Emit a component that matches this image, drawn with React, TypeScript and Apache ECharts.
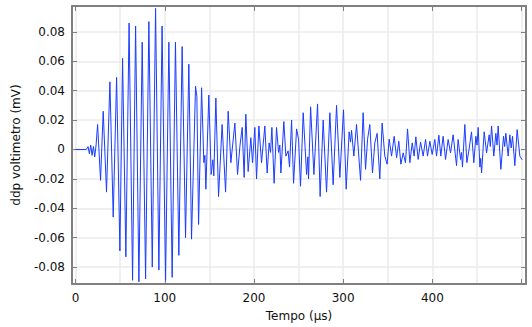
import React, { useEffect, useRef } from "react";
import * as echarts from "echarts";

// [tempo (µs), ddp (mV)], split into segments
const onset: [number, number][] = [
  [0, 0], [12, 0], [14, 0.002], [15.5, -0.003], [17, 0.003], [18.5, -0.004],
  [20, 0.002], [21.5, -0.005], [23, 0.003], [24.7, 0.017], [28, -0.021],
  [31, 0.026], [34.7, -0.029], [38.5, 0.046], [42.2, -0.046], [46, 0.049],
  [49.7, -0.069], [52.7, 0.062], [56.4, -0.073],
];
const burst: [number, number][] = [
  [60, 0.086], [63.9, -0.089], [67.3, 0.084], [71, -0.09], [74.7, 0.073],
  [78.5, -0.088], [82.2, 0.087], [86, -0.08], [89.7, 0.096], [93.4, -0.082],
  [97, 0.084], [100.9, -0.089], [104.6, 0.073], [108.3, -0.087], [112, 0.073],
  [115.8, -0.072], [119.5, 0.07], [123.3, -0.06], [127, 0.058], [130, -0.061],
  [134.5, 0.043], [136, 0.036], [137.9, -0.051], [141.3, 0.042], [143.8, -0.009],
  [145, -0.004], [146.1, -0.027], [149.4, 0.037], [152, -0.017], [153.9, -0.007],
  [155, -0.018], [157.3, 0.035], [160.3, -0.032], [164.3, 0.017], [168.2, -0.029],
  [171.1, 0.026], [174.1, -0.009], [178.6, 0.018], [181.6, -0.017], [184.2, 0.002],
  [186.8, 0.015], [189, -0.019],
];
const decay: [number, number][] = [
  [190.9, 0.024], [193.5, -0.015], [196.5, 0.008], [198.4, -0.009], [201, 0.015],
  [202.9, -0.02], [205.5, 0.016], [208.5, -0.009], [212.2, 0.016], [214.8, -0.016],
  [217, 0.0045], [218.6, -0.002], [220.1, 0.015], [222.6, -0.023], [225.3, 0.015],
  [227.6, -0.002], [229, 0.003], [230.2, -0.016], [233.5, 0.019], [235.8, -0.0045],
  [238.3, -0.001], [239.9, -0.012], [242.2, 0.02], [244.4, -0.023], [247.8, 0.014],
  [250, 0.007], [252.2, -0.025], [255.2, 0.025], [259, -0.017], [260.4, -0.005],
  [261.2, -0.02], [263.5, 0.029], [267.2, -0.017], [271.3, 0.031], [274.2, -0.032],
  [277.6, 0.02], [281.4, -0.029], [285.1, 0.025], [288.8, -0.024], [292.6, 0.03],
  [296.3, -0.019], [300.4, 0.027], [303.4, -0.027], [306.7, 0.012], [308.3, 0.005],
  [309.4, 0.013], [312, -0.0045], [315, 0.017], [319.5, -0.021], [322.4, 0.025],
  [325.1, -0.0135], [327.4, 0.007], [329.9, 0.017], [332.9, -0.016], [335.5, 0.0045],
  [338.1, 0.011], [341.1, -0.02], [343.7, 0.018], [346.7, -0.0045], [349.3, -0.01],
];
const tail: [number, number][] = [
  [351.6, 0.007], [354.3, -0.0045], [357.2, 0.009], [359.9, -0.0056], [362.4, 0.0056],
  [364.7, -0.01], [367.3, -0.0023], [369.9, -0.009], [372.2, 0.014], [374.8, -0.009],
  [377.4, 0.0045], [379.6, -0.0045], [381.5, 0.0086], [384.1, -0.0068], [386.8, 0.005],
  [389.7, -0.0045], [392.4, 0.0068], [394.6, -0.0045], [397.2, 0.0056], [399.8, -0.0034],
  [402.8, 0.0068], [404.7, -0.0045], [407.3, 0.0097], [409.5, -0.0045], [412.1, 0.009],
  [414.8, -0.0068], [417.7, 0.0068], [420.4, -0.0023], [423.3, 0.01], [427.1, -0.011],
  [428.9, 0.0068], [431.6, -0.0068], [432.7, -0.002], [433.8, -0.012], [436.4, 0.017],
  [438.7, -0.009], [440.9, -0.001], [443.9, 0.012], [446.5, -0.009], [448.8, 0.009],
  [450.1, 0.003], [451.4, 0.015], [453.3, -0.012], [454.2, -0.006], [455.2, -0.016],
  [458.1, 0.012], [460.8, -0.0023], [463.7, 0.01], [465, 0.002], [466.4, 0.016],
  [468.9, -0.0045], [471.2, 0.011], [472.5, 0.003], [473.8, 0.016], [476.8, -0.0135],
  [479.8, 0.009], [481.1, 0.002], [482.4, 0.011], [485, -0.0045], [486.9, 0.01],
  [488.4, 0.001], [489.9, 0.009], [492.5, -0.011], [495.1, 0.0135], [498.1, -0.0045],
  [500.7, -0.007],
];

const X_MIN = -4;
const X_MAX = 505;
const Y_MIN = -0.0915;
const Y_MAX = 0.0976;

const FRAME = "#808080";
const GRID = "#ebebeb";
const FONT = "DejaVu Sans";

export default function App() {
  const ref = useRef<HTMLDivElement>(null);
  useEffect(() => {
    document.body.style.margin = "0";
    const chart = echarts.init(ref.current!, null, { renderer: "svg" });
    const data = [...onset, ...burst, ...decay, ...tail];
    const frameLine = { show: true, onZero: false, lineStyle: { color: FRAME, width: 2 } };
    const tick = { show: true, inside: true, length: 5, lineStyle: { color: FRAME, width: 1 } };
    chart.setOption({
      animation: false,
      grid: { left: 72, right: 6, top: 6, bottom: 42, containLabel: false },
      xAxis: [
        {
          type: "value", position: "bottom", min: X_MIN, max: X_MAX, splitNumber: 5,
          axisLine: frameLine, axisTick: tick, splitLine: { show: false },
          axisLabel: {
            showMinLabel: false, showMaxLabel: false, margin: 8,
            color: "#111", fontFamily: FONT, fontSize: 12,
            formatter: (v: number) => (v >= 0 && v < 500 ? String(v) : ""),
          },
          name: "Tempo (µs)", nameLocation: "middle", nameGap: 26,
          nameTextStyle: { color: "#111", fontFamily: FONT, fontSize: 12 },
        },
        {
          type: "value", position: "top", min: X_MIN, max: X_MAX, splitNumber: 5,
          axisLine: frameLine, axisTick: tick, axisLabel: { show: false },
          splitLine: { show: false },
        },
        {
          type: "value", position: "bottom", min: X_MIN, max: X_MAX, splitNumber: 10,
          axisLine: { show: false }, axisTick: { show: false }, axisLabel: { show: false },
          splitLine: { show: true, lineStyle: { color: GRID, width: 1.5 } },
          z: 0,
        },
      ],
      yAxis: [
        {
          type: "value", position: "left", min: Y_MIN, max: Y_MAX, splitNumber: 9,
          axisLine: frameLine, axisTick: tick,
          splitLine: { show: true, lineStyle: { color: GRID, width: 1.5 } },
          axisLabel: {
            showMinLabel: false, showMaxLabel: false, margin: 7,
            color: "#111", fontFamily: FONT, fontSize: 12,
          },
          name: "ddp voltimetro (mV)", nameLocation: "middle", nameGap: 50,
          nameTextStyle: { color: "#111", fontFamily: FONT, fontSize: 12 },
        },
        {
          type: "value", position: "right", min: Y_MIN, max: Y_MAX, splitNumber: 9,
          axisLine: frameLine, axisTick: tick, axisLabel: { show: false },
          splitLine: { show: false },
        },
      ],
      series: [
        {
          type: "line", xAxisIndex: 0, yAxisIndex: 0, data,
          showSymbol: false, symbol: "none",
          lineStyle: { color: "#1a3cff", width: 1 },
          z: 3,
        },
      ],
    });
    return () => chart.dispose();
  }, []);
  return <div ref={ref} style={{ width: 532, height: 327 }} />;
}
